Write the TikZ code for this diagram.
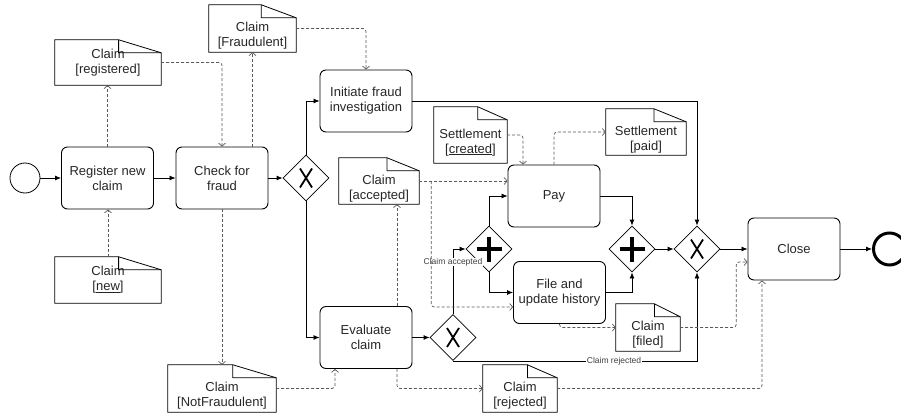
\documentclass[tikz,border=0pt]{standalone}
\usepackage{fontspec}
\setmainfont{Liberation Sans}
\usetikzlibrary{shapes.geometric,arrows.meta,calc}

% outline of a data object with folded corner
\newcommand{\docshape}[1]{%
  \draw[line width=0.8pt] (#1.south west) -- (#1.north west)
    -- ($(#1.north west)!0.6!(#1.north east)$) coordinate (#1 fold)
    -- ($(#1.north east)+(0,13)$) -- (#1.south east) -- cycle;
  \draw[line width=0.8pt] (#1 fold) -- ++(0,13) -- ($(#1.north east)+(0,13)$);}
% pushes the text of a data object below its fold
\newcommand{\belowfold}{\rule{0pt}{24pt}}

\tikzset{
  task/.style={draw, rounded corners=6pt, line width=0.9pt, minimum width=92, minimum height=62,
    align=center, text=black!85, font=\fontsize{13}{15}\selectfont},
  gateway/.style={draw, diamond, aspect=1, inner sep=0pt, minimum width=46, minimum height=46, line width=0.8pt},
  xorgate/.style={gateway, path picture={\draw[line width=1.8pt, shift={(path picture bounding box.center)}]
    (-6,-9.5) -- (6,9.5) (6,-9.5) -- (-6,9.5);}},
  andgate/.style={gateway, path picture={\draw[line width=4pt, shift={(path picture bounding box.center)}]
    (-12.5,0) -- (12.5,0) (0,-12.5) -- (0,12.5);}},
  startev/.style={draw, circle, minimum size=30, inner sep=0pt, line width=0.8pt},
  endev/.style={draw, circle, minimum size=32, inner sep=0pt, line width=3pt},
  dataobj/.style={inner sep=1pt, align=center, minimum height=46, text=black!85, font=\fontsize{13}{15}\selectfont},
  flow/.style={-{Latex[length=6pt,width=5pt]}, line width=0.8pt},
  assoc/.style={-{Straight Barb[length=3pt,width=7pt]}, dash pattern=on 3pt off 2pt, rounded corners=3pt,
    draw=black!65, line width=0.7pt},
  condlabel/.style={fill=white, inner sep=0.5pt, text=black!75, font=\fontsize{8.5}{9}\selectfont}
}

\begin{document}
\begin{tikzpicture}[x=1pt,y=-1pt]
  \useasboundingbox (0,0) rectangle (901,414);

  % activities and gateways
  \node[startev] (start) at (25,178) {};
  \node[task] (reg) at (107.5,178) {Register new\\claim};
  \node[task] (check) at (222,178) {Check for\\fraud};
  \node[xorgate] (g1) at (306,178) {};
  \node[task] (init) at (366,101) {Initiate fraud\\investigation};
  \node[task] (eval) at (366,337.5) {Evaluate\\claim};
  \node[xorgate] (xsplit) at (453,337.5) {};
  \node[andgate] (psplit) at (489,249) {};
  \node[task] (pay) at (554,196) {Pay};
  \node[task] (file) at (559.5,292.5) {File and\\update history};
  \node[andgate] (pjoin) at (632,249) {};
  \node[xorgate] (xjoin) at (697,249) {};
  \node[task] (close) at (794,249) {Close};
  \node[endev] (end) at (889.5,249) {};

  % data objects
  \node[dataobj, minimum width=106] (dnew) at (108,280) {Claim\\{[}\underline{new}{]}};
  \node[dataobj, minimum width=106, minimum height=45] (dreg) at (108,62.5) {Claim\\{[}registered{]}};
  \node[dataobj, minimum width=87, minimum height=47] (dfraud) at (252.5,28.5) {\belowfold Claim\\{[}Fraudulent{]}};
  \node[dataobj, minimum width=108, minimum height=47] (dnotf) at (222,388.5) {\belowfold Claim\\{[}NotFraudulent{]}};
  \node[dataobj, minimum width=80] (dacc) at (379,181) {\belowfold Claim\\{[}accepted{]}};
  \node[dataobj, minimum width=73, minimum height=56] (dcreat) at (470.5,135) {\belowfold Settlement\\{[}\underline{created}{]}};
  \node[dataobj, minimum width=80] (dpaid) at (646,132) {\belowfold Settlement\\{[}paid{]}};
  \node[dataobj, minimum width=64, minimum height=47] (dfiled) at (648,327.5) {\belowfold Claim\\{[}filed{]}};
  \node[dataobj, minimum width=74, minimum height=47] (drej) at (520,388.5) {\belowfold Claim\\{[}rejected{]}};
  \foreach \d in {dnew,dreg,dfraud,dnotf,dacc,dcreat,dpaid,dfiled,drej}
    \docshape{\d};

  % sequence flows
  \draw[flow] (start) -- (reg);
  \draw[flow] (reg) -- (check);
  \draw[flow] (check) -- (g1);
  \draw[flow] (g1.north) |- (init.west);
  \draw[flow] (g1.south) |- (eval.west);
  \draw[flow] (init.east) -| (xjoin.north);
  \draw[flow] (eval) -- (xsplit);
  \draw[flow] (xsplit.north) |- node[pos=0.4, condlabel] {Claim accepted} (psplit.west);
  \draw[flow] (xsplit.south) -| node[pos=0.33, condlabel] {Claim rejected} (xjoin.south);
  \draw[flow] (psplit.north) |- (pay.west);
  \draw[flow] (psplit.south) |- (file.west);
  \draw[flow] (pay.east) -| (pjoin.north);
  \draw[flow] (file.east) -| (pjoin.south);
  \draw[flow] (pjoin) -- (xjoin);
  \draw[flow] (xjoin) -- (close);
  \draw[flow] (close) -- (end);

  % data associations
  \coordinate (ev top) at ([xshift=31pt]eval.north);
  \draw[assoc] (dnew.north) -- (dnew.north |- reg.south);
  \draw[assoc] (reg.north) -- (reg.north |- dreg.south);
  \draw[assoc] (dreg.east) -| (check.north);
  \draw[assoc] (dfraud.south |- check.north) -- (dfraud.south);
  \draw[assoc] (dfraud.east) -| (init.north);
  \draw[assoc] (check.south) -- (check.south |- dnotf.north);
  \draw[assoc] (dnotf.east) -| ([xshift=-31pt]eval.south);
  \draw[assoc] (ev top) -- (ev top |- dacc.south);
  \draw[assoc] (dacc.east) -- (dacc.east -| pay.west);
  \draw[assoc] (dacc.east) ++(12,0) |- ([yshift=-14.5pt]file.west);
  \draw[assoc] (dcreat.east) -| ([xshift=-31pt]pay.north);
  \draw[assoc] (pay.north) |- (dpaid.west);
  \draw[assoc] (file.south) |- (dfiled.west);
  \draw[assoc] (dfiled.east) -- ++(56,0) |- ([yshift=-13pt]close.west);
  \draw[assoc] ([xshift=31pt]eval.south) |- (drej.west);
  \draw[assoc] (drej.east) -| ([xshift=-32pt]close.south);
\end{tikzpicture}
\end{document}
